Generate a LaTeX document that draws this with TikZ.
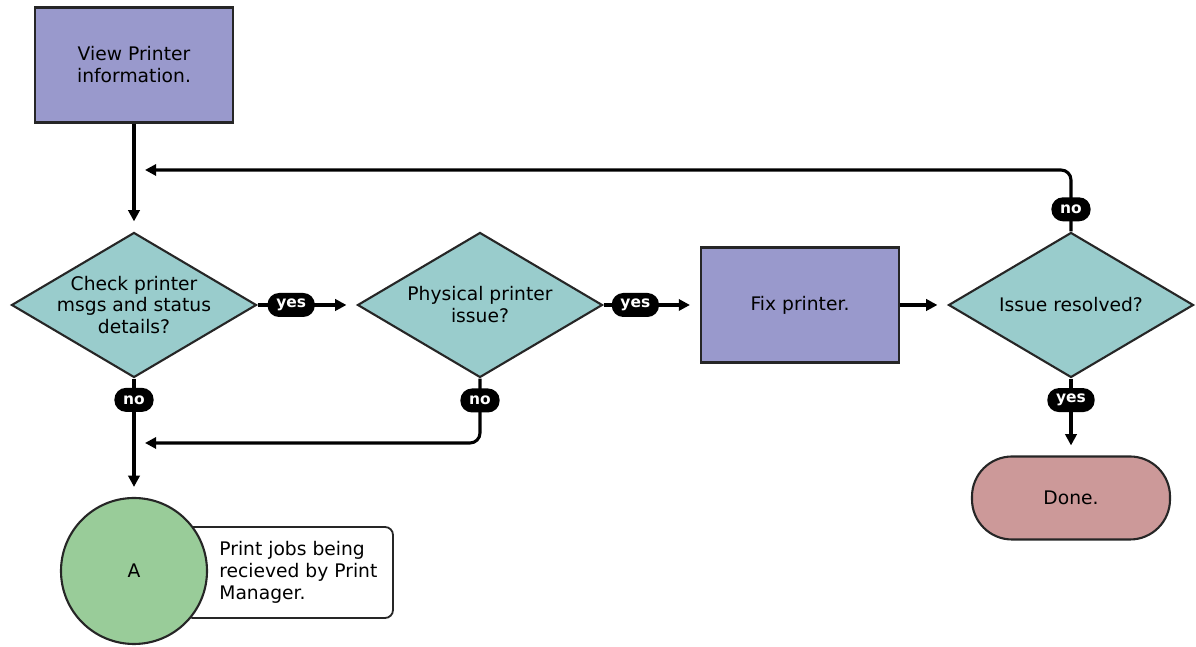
\documentclass[tikz,border=0pt]{standalone}
\usepackage{xcolor}
\usepackage{fontspec}
\setmainfont{DejaVu Sans}
\usepackage{tikz}
\usetikzlibrary{shapes.geometric,arrows.meta}
\definecolor{taskfill}{RGB}{153,153,204}
\definecolor{askfill}{RGB}{153,204,204}
\definecolor{linkfill}{RGB}{153,204,153}
\definecolor{endfill}{RGB}{204,153,153}

\begin{document}
\begin{tikzpicture}[
  font=\fontsize{13.3}{15.6}\selectfont,
  task/.style={draw=black!85, line width=1.5pt, fill=taskfill, minimum width=4.95cm, minimum height=2.875cm, align=center},
  ask/.style={diamond, aspect=1.69, draw=black!85, line width=1.5pt, fill=askfill, minimum width=6.125cm, minimum height=3.625cm, inner sep=-0.2cm, align=center},
  pill/.style={fill=black, text=white, font=\fontsize{11}{13}\selectfont\bfseries, rounded corners=0.29cm, minimum height=0.6cm, inner xsep=0.22cm, inner ysep=0pt},
  flow/.style={line width=2.2pt, -{Triangle[length=0.28cm,width=0.28cm]}, shorten >=0.25cm},
]
  \useasboundingbox (0,0) rectangle (29.9,16.175);
  % Boxes and questions
  \node[task] (view) at (3.35,14.55) {View Printer\\information.};
  \node[ask] (ask1) at (3.35,8.55) {Check printer\\msgs and status\\details?};
  \node[ask] (ask2) at (12.0,8.55) {Physical printer\\issue?};
  \node[task] (fix) at (20.0,8.55) {Fix printer.};
  \node[ask] (ask3) at (26.775,8.55) {Issue resolved?};
  \node[draw=black!85, line width=1.5pt, fill=endfill, rounded corners=1.0cm, minimum width=4.95cm, minimum height=2.075cm] (done) at (26.775,3.725) {Done.};
  % Off-page link with its note
  \node[draw=black!85, line width=1.3pt, rounded corners=0.2cm, fill=white, minimum width=5.2cm, minimum height=2.275cm] (note) at (7.225,1.8625) {};
  \node[anchor=west, align=left, inner sep=0pt] (notetext) at ([xshift=0.875cm]note.west) {Print jobs being\\recieved by Print\\Manager.};
  \node[circle, draw=black!85, line width=1.5pt, fill=linkfill, minimum size=3.65cm] (linkA) at (3.35,1.9) {A};
  % Merge points of the loops
  \coordinate (backtip) at (3.625,11.925);
  \coordinate (mergetip) at (3.625,5.1);
  % Connectors
  \draw[flow] (view) -- (ask1);
  \draw[flow] (ask1) -- node[pill, pos=0.34] {yes} (ask2);
  \draw[flow] (ask2) -- node[pill, pos=0.33] {yes} (fix);
  \draw[flow] (fix) -- (ask3);
  \draw[flow] (ask3) -- node[pill, pos=0.28] {yes} (done);
  \draw[flow] (ask1) -- node[pill, pos=0.18] {no} (linkA);
  \draw[flow, shorten >=0pt, rounded corners=0.25cm] (ask2.south) |- node[pill, pos=0.17] {no} (mergetip);
  \draw[flow, shorten >=0pt, rounded corners=0.25cm] (ask3.north) |- node[pill, pos=0.18] {no} (backtip);
\end{tikzpicture}
\end{document}
